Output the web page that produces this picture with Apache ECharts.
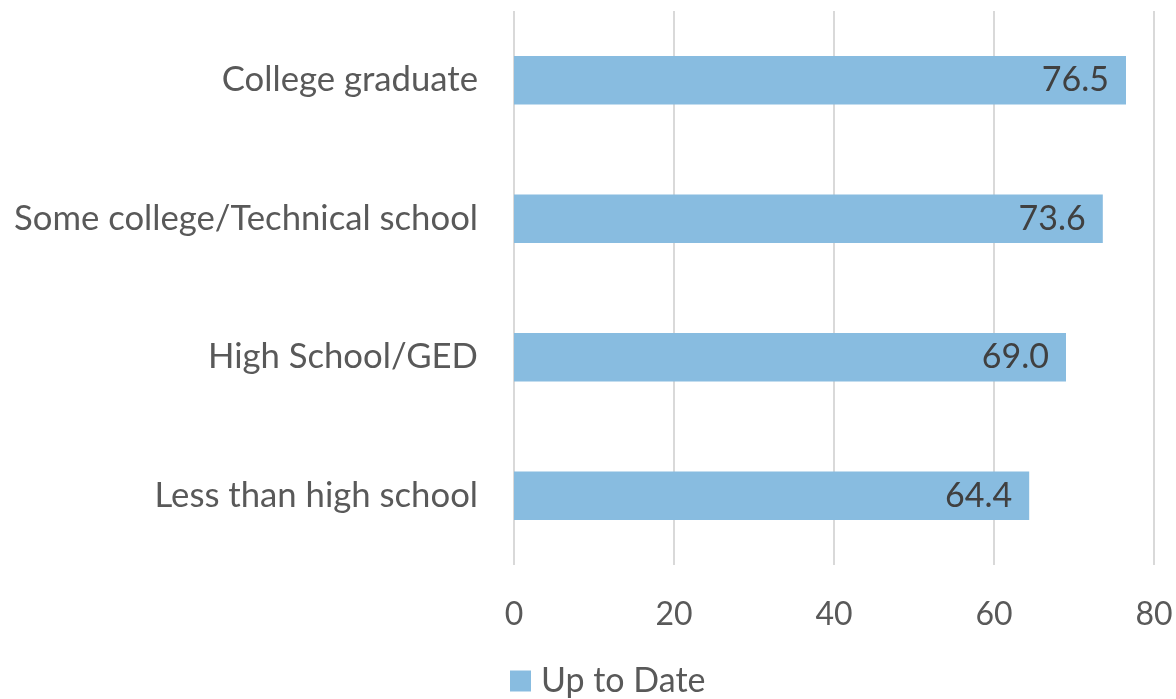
<!DOCTYPE html>
<html><head><meta charset="utf-8">
<script src="https://cdn.jsdelivr.net/npm/echarts@6/dist/echarts.min.js"></script>
<style>html,body{margin:0;padding:0;background:#fff}#c{width:1176px;height:699px}</style>
</head><body><div id="c"></div>
<script>
var categories = ["Less than high school", "High School/GED", "Some college/Technical school", "College graduate"];
var upToDate = [64.4, 69.0, 73.6, 76.5];
var seriesName = "Up to Date";
var xTicks = [0, 20, 40, 60, 80];

var FONT = "Lato";
var chart = echarts.init(document.getElementById('c'));
chart.setOption({
  animation: false,
  textStyle: {fontFamily: FONT},
  grid: {left: 514, right: 22, top: 11, bottom: 134, containLabel: false},
  legend: {
    top: 656, left: 505, itemWidth: 21, itemHeight: 21, itemGap: 10,
    icon: 'rect',
    textStyle: {fontFamily: FONT, fontSize: 34, lineHeight: 40, color: '#595959', padding: [0,0,0,5]},
    data: [seriesName]
  },
  xAxis: {
    type: 'value', min: 0, max: 80, interval: 20,
    axisLine: {show: false}, axisTick: {show: false},
    splitLine: {lineStyle: {color: '#d9d9d9', width: 2}},
    axisLabel: {fontFamily: FONT, fontSize: 32, color: '#595959', margin: 34,
      formatter: function(v){ return xTicks.indexOf(v) >= 0 ? String(v) : ''; }}
  },
  yAxis: {
    type: 'category', data: categories,
    axisLine: {show: false}, axisTick: {show: false},
    axisLabel: {fontFamily: FONT, fontSize: 34.7, color: '#595959', margin: 36}
  },
  series: [{
    name: seriesName, type: 'bar', data: upToDate,
    barCategoryGap: '65%',
    itemStyle: {color: '#88bce0'},
    label: {show: true, position: 'insideRight', distance: 17,
      fontFamily: FONT, fontSize: 34, color: '#404040',
      formatter: function(p){ return p.value.toFixed(1); }}
  }]
});
</script></body></html>
